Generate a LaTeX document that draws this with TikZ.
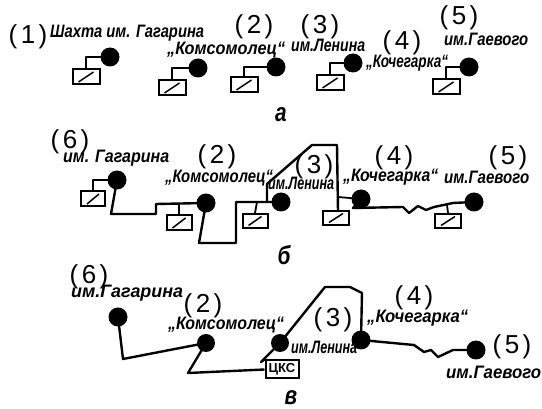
\documentclass[tikz,border=0pt]{standalone}
\usepackage{fontspec}
\setmainfont{Liberation Sans}
\usetikzlibrary{calc}
\newcommand\labfont{\fontsize{18}{18}\selectfont\itshape\bfseries}
\newlength\labwd
\newsavebox\labbox
\newcommand\fitlab[5]{%
  \sbox\labbox{\pgfinterruptpicture\labfont #5\endpgfinterruptpicture}%
  \setlength\labwd{\wd\labbox}%
  \pgfmathsetmacro\fs{(#3-#2)/(\labwd/1pt)}%
  \node[lab,xscale=\fs,anchor=west] (#1) at (#2,#4) {#5};}
\newcommand\numtxt[1]{(\kern3.5pt #1\kern3.5pt)}
\tikzset{
  wire/.style={line width=2.4pt,line join=round},
  stem/.style={line width=1.8pt,line join=round},
  station/.style={circle,fill=black,inner sep=0pt,minimum size=19pt},
  trafo/.style={draw,line width=2pt,fill=white,inner sep=0pt,minimum width=27pt,minimum height=15pt,
    path picture={\draw[line width=1.5pt] ($(path picture bounding box.south west)+(6pt,2.5pt)$) -- ($(path picture bounding box.north east)+(-6pt,-2.5pt)$);}},
  lab/.style={inner sep=0pt,font=\labfont},
  num/.style={inner sep=0pt,font=\fontsize{26}{26}\selectfont},
  letter/.style={inner sep=0pt,anchor=base,xscale=.8,font=\fontsize{26}{26}\selectfont\itshape\bfseries},
  cks/.style={draw,line width=2pt,fill=white,inner sep=0pt,minimum width=33pt,minimum height=18pt,font=\fontsize{13}{13}\selectfont\bfseries},
}
\begin{document}
\begin{tikzpicture}[x=1pt,y=-1pt]
\useasboundingbox (0,0) rectangle (542,409);
% --- a ---
\node[num] (n1) at (28,37) {\numtxt{1}};
\fitlab{l1}{50}{204}{33}{Шахта им. Гагарина}
\node[station] (a1) at (110,57) {};
\node[trafo] (t1) at (86,77) {};
\draw[stem] (a1.center) -| (t1.north);
\node[num] (n2) at (254,27) {\numtxt{2}};
\fitlab{l2}{167}{285}{50}{„Комсомолец“}
\node[station] (a2) at (198,68) {};
\node[trafo] (t2) at (172,88) {};
\draw[stem] (a2.center) -| (t2.north);
\node[station] (a2b) at (276,67) {};
\node[trafo] (t2b) at (244,85) {};
\draw[stem] (a2b.center) -| (t2b.north);
\node[num] (n3) at (320,27) {\numtxt{3}};
\fitlab{l3}{291}{365}{45}{им.Ленина}
\node[station] (a3) at (353,63) {};
\node[trafo] (t3) at (330,83) {};
\draw[stem] (a3.center) -| (t3.north);
\node[num] (n4) at (402,43) {\numtxt{4}};
\fitlab{l4}{366}{448}{63}{„Кочегарка“}
\node[num] (n5) at (459,18) {\numtxt{5}};
\fitlab{l5}{444}{528}{39}{им.Гаевого}
\node[station] (a5) at (469,67) {};
\node[trafo] (t5) at (446,87) {};
\draw[stem] (a5.center) -- (446,67) -- (t5.north);
\node[letter] (la) at (281,122) {а};
% --- b ---
\node[num] (n6) at (70,142) {\numtxt{6}};
\fitlab{l6}{63}{169}{158}{им. Гагарина}
\node[station] (b6) at (117,180) {};
\node[trafo,minimum width=24pt] (t6) at (93,199) {};
\draw[stem] (b6.center) -| (t6.north);
\node[num] (n22) at (217,157) {\numtxt{2}};
\fitlab{l22}{165}{273}{178}{„Комсомолец“}
\node[station] (b2) at (206,203) {};
\node[trafo,minimum width=25pt] (t22) at (179,223) {};
\node[trafo,minimum width=25pt,minimum height=14pt] (t23) at (255,221) {};
\node[num] (n33) at (314,167) {\numtxt{3}};
\fitlab{l33}{268}{334}{183}{им.Ленина}
\node[num] (n44) at (394,158) {\numtxt{4}};
\fitlab{l44}{343}{438}{177}{„Кочегарка“}
\node[num] (n55) at (508,158) {\numtxt{5}};
\fitlab{l55}{444}{529}{177}{им.Гаевого}
\node[station] (b3) at (281,202) {};
\node[station] (b4) at (361,199) {};
\node[station] (b5) at (474,202) {};
\node[trafo,minimum width=26pt,minimum height=14pt] (t34) at (336,218) {};
\node[trafo,minimum width=26pt,minimum height=14pt] (t45) at (448,221) {};
\draw[wire] (b6.center) -- (111,214) -- (156,214) -- (156,204) -- (b2.center);
\draw[stem] (179,204) -- (t22.north);
\draw[wire] (b2.center) -- (199,243) -- (236,243) -- (236,202) -- (b3.center);
\draw[stem] (257,202) -- (t23.north);
\draw[wire] (267,202) -- (267,184) -- (312,145) -- (337,145) -- (338,211);
\draw[stem] (338,197) -- (b4.center);
\draw[wire] (b4.center) -- (353,208) -- (403,207) -- (409,213) -- (418,206) -- (426,210) -- (434,207) -- (453,203) -- (b5.center);
\draw[stem] (447,205) -- (t45.north);
\node[letter] (lb) at (284,265) {б};
% --- c ---
\node[num] (n66) at (89,277) {\numtxt{6}};
\fitlab{l66}{71}{183}{293}{им.Гагарина}
\node[station] (c6) at (118,317) {};
\node[num] (n222) at (203,306) {\numtxt{2}};
\fitlab{l222}{168}{284}{325}{„Комсомолец“}
\node[station,minimum size=18pt] (c2) at (206,343) {};
\node[station,minimum size=18pt] (c3) at (280,343) {};
\node[station] (c4) at (361,340) {};
\node[station] (c5) at (476,350) {};
\node[cks] (k) at (282,369.5) {ЦКС};
\node[num] (n333) at (333,320) {\numtxt{3}};
\fitlab{l333}{291}{357}{347}{им.Ленина}
\node[num] (n444) at (414,298) {\numtxt{4}};
\fitlab{l444}{367}{468}{318}{„Кочегарка“}
\node[num] (n555) at (512,347) {\numtxt{5}};
\fitlab{l555}{446}{541}{372}{им.Гаевого}
\draw[wire] (c6.center) -- (123,359) -- (c2.center) -- (188,373) -- (k.west);
\draw[wire] (k.north west) -- (261,362) -- (c3.center) -- (325,287) -- (350,287) -- (362,293) -- (c4.center);
\draw[wire] (c4.center) -- (414,345) -- (424,352) -- (431,350) -- (438,357) -- (453,350) -- (c5.center);
\node[letter] (lc) at (291,405) {в};
\end{tikzpicture}
\end{document}
